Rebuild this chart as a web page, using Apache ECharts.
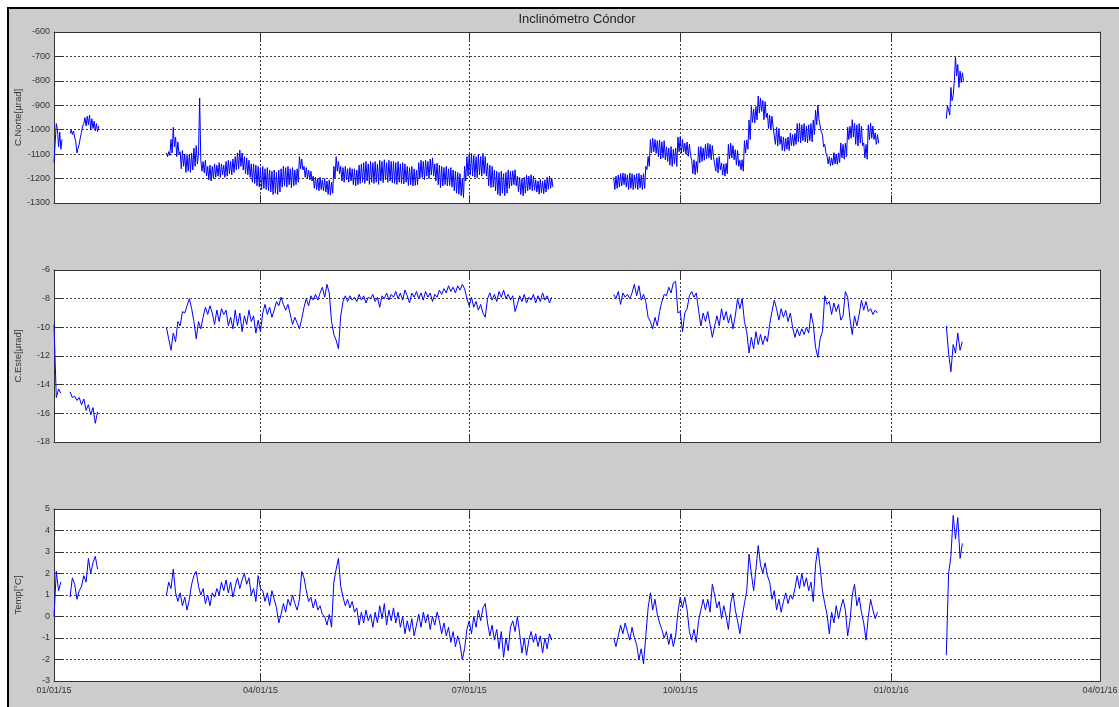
<!DOCTYPE html>
<html>
<head>
<meta charset="utf-8">
<title>Inclinómetro Cóndor</title>
<script src="https://cdn.jsdelivr.net/npm/echarts@6/dist/echarts.min.js"></script>
<style>
  html, body { margin: 0; padding: 0; background: #ffffff; overflow: hidden; width: 1119px; height: 707px; }
  .Fig_Back {
    position: absolute;
    left: 7px;
    top: 7px;
    width: 1130px;
    height: 710px;
    box-sizing: border-box;
    background-color: #cccccc;
    border-top: 2px solid #000000;
    border-left: 2px solid #000000;
  }
  #Condor_Chart {
    position: absolute;
    left: 0;
    top: 0;
    width: 1119px;
    height: 707px;
  }
</style>
</head>
<body>
<div class="Fig_Back"></div>
<div id="Condor_Chart"></div>
<script>
// first day of every stretch of records
const segStart = ["2015-01-01", "2015-01-08", "2015-02-19", "2015-09-02", "2016-01-25"];

// x axis ticks (quarters)
const tickDates = ["2015-01-01", "2015-04-01", "2015-07-01", "2015-10-01", "2016-01-01", "2016-04-01"];

// C.Norte [µrad], two readings per day (00h, 12h)
const norte1 = [-1135, -1055, -975, -1000, -1070, -1010, -1080, -1040];
const norte2 = [
  -1015, -1000, -1020, -1005, -1030, -1050, -1095, -1075, -1060, -1030, -1010, -985, -975,
  -950, -985, -945, -980, -940, -1000, -955, -995, -965, -1005, -975, -1008, -985
];
const norte3 = [
  -1095, -1110, -1090, -1105, -1040, -1095, -990, -1070, -1030, -1110,
  -1050, -1100, -1090, -1160, -1085, -1150, -1100, -1175, -1105, -1170,
  -1100, -1175, -1095, -1165, -1075, -1150, -1065, -1140, -1100, -870,
  -1125, -1170, -1130, -1177, -1125, -1190, -1150, -1205, -1145, -1210,
  -1150, -1200, -1140, -1195, -1145, -1190, -1135, -1195, -1140, -1185,
  -1145, -1195, -1130, -1190, -1125, -1180, -1130, -1185, -1120, -1175,
  -1110, -1165, -1095, -1160, -1083, -1150, -1095, -1165, -1110, -1180,
  -1115, -1185, -1125, -1195, -1140, -1215, -1140, -1220, -1145, -1230,
  -1150, -1235, -1155, -1245, -1150, -1240, -1160, -1245, -1155, -1250,
  -1165, -1255, -1170, -1265, -1165, -1260, -1175, -1265, -1165, -1255,
  -1160, -1235, -1150, -1230, -1155, -1235, -1150, -1225, -1160, -1237,
  -1155, -1230, -1165, -1225, -1160, -1215, -1110, -1160, -1120, -1165,
  -1150, -1195, -1155, -1200, -1165, -1205, -1170, -1210, -1190, -1240,
  -1195, -1245, -1200, -1250, -1195, -1245, -1205, -1250, -1200, -1255,
  -1210, -1265, -1205, -1268, -1215, -1260, -1150, -1200, -1110, -1170,
  -1130, -1180, -1150, -1210, -1155, -1215, -1150, -1205, -1160, -1215,
  -1155, -1210, -1160, -1225, -1160, -1230, -1165, -1225, -1145, -1220,
  -1140, -1215, -1135, -1220, -1130, -1210, -1140, -1224, -1130, -1215,
  -1135, -1220, -1130, -1215, -1140, -1224, -1125, -1210, -1130, -1217,
  -1123, -1205, -1135, -1215, -1125, -1210, -1130, -1217, -1130, -1220,
  -1135, -1224, -1130, -1215, -1140, -1220, -1135, -1222, -1140, -1215,
  -1150, -1228, -1155, -1225, -1150, -1230, -1160, -1228, -1165, -1225,
  -1135, -1200, -1125, -1195, -1130, -1204, -1125, -1190, -1130, -1200,
  -1120, -1185, -1115, -1190, -1140, -1210, -1137, -1225, -1145, -1237,
  -1150, -1230, -1155, -1225, -1150, -1230, -1160, -1228, -1155, -1235,
  -1165, -1250, -1170, -1260, -1175, -1264, -1180, -1270, -1200, -1278,
  -1150, -1210, -1110, -1190, -1100, -1185, -1097, -1190, -1105, -1195,
  -1110, -1197, -1100, -1185, -1110, -1190, -1097, -1180, -1110, -1190,
  -1137, -1230, -1145, -1237, -1150, -1235, -1165, -1250, -1170, -1265,
  -1175, -1271, -1170, -1260, -1180, -1270, -1175, -1260, -1165, -1240,
  -1170, -1230, -1168, -1225, -1164, -1230, -1190, -1255, -1195, -1265,
  -1200, -1271, -1195, -1260, -1185, -1250, -1190, -1245, -1184, -1250,
  -1190, -1248, -1205, -1255, -1210, -1264, -1204, -1258, -1210, -1262,
  -1205, -1255, -1195, -1244, -1190, -1240, -1200, -1235
];
const norte4 = [
  -1195, -1245, -1190, -1240, -1185, -1235, -1180, -1230, -1177, -1225,
  -1180, -1235, -1185, -1245, -1177, -1240, -1180, -1245, -1185, -1240,
  -1180, -1245, -1178, -1238, -1185, -1245, -1180, -1240, -1150, -1163,
  -1110, -1150, -1040, -1095, -1035, -1090, -1040, -1097, -1045, -1110,
  -1042, -1120, -1050, -1115, -1045, -1123, -1070, -1130, -1075, -1145,
  -1069, -1150, -1080, -1140, -1075, -1150, -1030, -1090, -1028, -1096,
  -1040, -1090, -1055, -1100, -1050, -1109, -1060, -1105, -1125, -1180,
  -1123, -1184, -1130, -1175, -1070, -1136, -1069, -1130, -1075, -1125,
  -1060, -1120, -1055, -1115, -1060, -1123, -1065, -1110, -1109, -1170,
  -1115, -1177, -1110, -1165, -1136, -1185, -1140, -1190, -1138, -1180,
  -1060, -1120, -1055, -1115, -1065, -1123, -1082, -1145, -1085, -1150,
  -1125, -1165, -1123, -1170, -1045, -1096, -1042, -1080, -960, -1040,
  -905, -970, -915, -973, -905, -960, -862, -932, -870, -925,
  -880, -959, -885, -950, -932, -995, -940, -1000, -945, -990,
  -986, -1060, -990, -1067, -995, -1060, -1027, -1085, -1030, -1088,
  -1035, -1080, -1030, -1085, -1013, -1065, -1020, -1067, -1015, -1060,
  -975, -1050, -973, -1054, -980, -1045, -975, -1050, -985, -1054,
  -980, -1045, -975, -1050, -960, -1020, -920, -980, -899, -960,
  -959, -1010, -1020, -1070, -1060, -1094, -1108, -1140, -1110, -1148,
  -1115, -1145, -1094, -1140, -1100, -1142, -1095, -1135, -1054, -1115,
  -1060, -1121, -1055, -1110, -990, -1040, -986, -1035, -959, -1030,
  -973, -1060, -980, -1067, -975, -1055, -985, -1065, -1054, -1115,
  -1060, -1121, -980, -1040, -973, -1035, -985, -1040, -1013, -1060,
  -1020, -1055
];
const norte5 = [-955, -900, -894, -940, -827, -881, -860, -800, -700, -780, -733, -827, -760, -807, -767, -800];

// C.Este [µrad], one reading per day
const este1 = [-9.8, -14.9, -14.3, -14.6];
const este2 = [-14.5, -14.9, -14.8, -15.1, -14.9, -15.4, -15.0, -15.8, -15.4, -16.1, -15.6, -16.7, -15.9];
const este3 = [
  -10.0, -10.8, -11.6, -10.4, -11.0, -9.6, -9.9, -8.9, -9.0, -8.5,
  -8.0, -8.7, -9.6, -10.8, -9.6, -10.1, -9.3, -8.6, -9.1, -8.5,
  -9.0, -9.8, -8.8, -9.6, -8.7, -9.1, -8.8, -9.9, -9.3, -10.1,
  -8.8, -9.9, -9.0, -10.3, -9.2, -9.8, -8.8, -9.6, -9.2, -10.4,
  -9.5, -10.3, -9.0, -8.4, -9.1, -8.6, -9.3, -8.8, -8.2, -8.5,
  -7.9, -8.4, -8.8, -8.4, -9.1, -9.8, -9.3, -9.7, -10.1, -9.4,
  -8.6, -8.0, -8.5, -7.8, -8.1, -7.7, -8.1, -7.6, -7.2, -7.9,
  -7.0, -7.6, -9.6, -10.5, -10.9, -11.5, -9.2, -8.2, -7.8, -8.2,
  -7.8, -8.1, -7.9, -8.2, -7.7, -8.1, -7.8, -8.3, -7.9, -8.0,
  -7.7, -8.2, -7.9, -8.6, -7.8, -8.0, -7.6, -8.1, -7.7, -7.9,
  -7.5, -8.0, -7.6, -8.1, -7.4, -7.8, -8.3, -7.6, -7.9, -7.5,
  -8.0, -7.6, -8.1, -7.5, -7.9, -7.6, -8.2, -7.7, -7.9, -7.4,
  -7.7, -7.3, -7.6, -7.1, -7.5, -7.2, -7.6, -7.1, -7.4, -7.0,
  -7.3, -8.0, -8.5, -7.9, -8.6, -8.2, -8.8, -8.4, -9.0, -9.3,
  -8.0, -7.6, -8.1, -7.7, -8.2, -7.5, -7.9, -7.4, -8.0, -7.7,
  -8.1, -7.8, -8.9, -8.4, -7.8, -8.2, -7.7, -8.3, -7.9, -8.1,
  -7.7, -8.3, -7.8, -8.2, -7.6, -8.1, -7.8, -8.3, -7.9
];
const este4 = [
  -7.7, -8.0, -7.5, -8.4, -7.6, -7.9, -7.7, -8.0, -7.6, -7.0,
  -7.8, -7.1, -8.1, -7.7, -8.2, -9.3, -9.6, -10.1, -9.3, -9.9,
  -8.9, -8.2, -7.7, -7.8, -7.2, -7.6, -6.9, -6.8, -9.0, -8.9,
  -10.3, -9.0, -8.7, -7.8, -7.5, -7.9, -7.6, -8.8, -9.9, -9.0,
  -9.6, -8.9, -9.8, -10.7, -9.9, -9.2, -9.9, -8.7, -9.5, -8.9,
  -9.7, -9.1, -10.1, -9.2, -8.0, -8.7, -8.0, -9.6, -10.3, -11.8,
  -10.7, -11.5, -10.3, -11.2, -10.5, -11.2, -10.6, -11.0, -9.8, -8.9,
  -8.1, -8.7, -9.5, -8.7, -9.3, -8.8, -9.6, -9.0, -10.0, -10.7,
  -10.1, -10.6, -10.1, -10.5, -10.0, -10.4, -9.0, -9.8, -11.4, -12.1,
  -10.8, -10.3, -7.8, -8.4, -8.2, -9.1, -8.3, -8.9, -8.4, -9.5,
  -9.2, -7.5, -7.9, -9.4, -10.5, -9.2, -9.9, -9.1, -8.1, -8.8,
  -8.2, -8.9, -8.7, -9.1, -8.8, -9.0
];
const este5 = [-9.9, -11.8, -13.1, -11.2, -11.8, -10.4, -11.6, -11.0];

// Temp [°C], one reading per day
const temp1 = [0.0, 2.1, 1.2, 1.6];
const temp2 = [0.9, 1.8, 1.5, 0.8, 1.2, 1.4, 1.9, 1.6, 2.7, 2.0, 2.5, 2.8, 2.2];
const temp3 = [
  1.0, 1.6, 1.3, 2.2, 1.1, 0.7, 1.1, 0.5, 0.9, 0.3,
  0.8, 1.5, 1.9, 2.1, 1.4, 1.0, 1.3, 0.6, 1.0, 0.5,
  1.1, 0.9, 1.3, 1.0, 1.6, 1.2, 1.7, 1.1, 1.6, 0.9,
  1.4, 1.8, 1.3, 1.7, 2.0, 1.5, 1.8, 1.0, 1.3, 0.7,
  1.9, 1.3, 1.2, 0.7, 1.1, 0.5, 1.2, 0.8, 0.4, -0.3,
  0.1, 0.6, 0.2, 0.8, 0.5, 1.0, 0.6, 0.3, 0.8, 2.1,
  1.8, 1.2, 0.7, 0.9, 0.4, 0.8, 0.3, 0.5, 0.1, 0.0,
  -0.4, 0.1, -0.5, 1.6, 2.2, 2.7, 1.4, 0.9, 0.5, 0.8,
  0.4, 0.7, 0.2, 0.4, -0.4, 0.2, -0.3, 0.3, -0.2, 0.1,
  -0.5, 0.2, -0.3, 0.5, -0.1, 0.6, -0.4, 0.3, -0.2, 0.4,
  -0.3, 0.2, -0.5, 0.0, -0.8, -0.2, -0.7, -0.1, -0.9, -0.4,
  0.1, -0.5, 0.2, -0.3, 0.1, -0.6, 0.0, -0.4, 0.2, -0.2,
  -0.8, -0.3, -0.9, -0.5, -1.2, -0.7, -1.4, -0.9, -1.3, -2.0,
  -1.5, -0.6, -0.2, -0.8, 0.0, -0.5, 0.3, -0.2, 0.4, 0.6,
  -0.3, -0.9, -0.4, -1.1, -0.6, -1.5, -0.7, -1.9, -1.0, -1.6,
  -0.5, -0.2, -0.7, 0.0, -0.8, -1.7, -1.0, -1.8, -1.1, -0.7,
  -1.2, -0.8, -1.4, -0.9, -1.7, -1.0, -1.5, -0.8, -1.1
];
const temp4 = [
  -1.0, -1.4, -0.9, -0.4, -0.8, -0.3, -0.7, -1.1, -0.5, -1.0,
  -1.3, -2.0, -1.5, -2.2, -0.9, 0.4, 1.1, 0.3, 0.8, 0.1,
  -0.3, -0.6, -1.0, -0.7, -1.3, -0.8, -1.4, -0.9, 0.2, 0.9,
  0.4, 0.9, 0.3, -0.7, -1.1, -0.6, -1.2, -0.2, 0.3, 0.8,
  0.3, 0.8, 0.2, 1.5, 1.0, 0.4, 0.7, -0.1, 0.5, 0.0,
  -0.6, 0.6, 1.1, 0.3, -0.2, -0.8, 0.0, 0.6, 1.2, 2.9,
  2.0, 1.2, 2.2, 3.3, 2.4, 2.0, 2.5, 1.9, 1.6, 0.8,
  1.2, 0.3, 0.8, 0.2, 0.7, 1.1, 0.6, 1.0, 0.8, 1.3,
  1.9, 1.3, 2.0, 1.4, 1.8, 1.2, 1.6, 0.7, 2.4, 3.2,
  2.3, 1.2, 0.6, 0.1, -0.8, 0.2, -0.3, 0.5, -0.1, 0.4,
  0.8, 0.3, -0.9, -0.2, 1.0, 1.5, 0.5, 0.9, 0.2, -0.3,
  -1.1, 0.0, 0.8, 0.3, -0.1, 0.2
];
const temp5 = [-1.8, 2.0, 2.8, 4.7, 3.6, 4.6, 2.7, 3.4];

const DAY = 86400000;

// join the stretches, with a break between them
function buildSeries(segs, stepDays) {
  const out = [];
  const step = stepDays * DAY;
  segs.forEach((vals, k) => {
    const t0 = Date.parse(segStart[k] + "T00:00:00Z");
    vals.forEach((v, i) => out.push([t0 + i * step, v]));
    if (k < segs.length - 1) out.push([t0 + vals.length * step, "-"]);
  });
  return out;
}

function fmtDate(v) {
  const d = new Date(v);
  const p = (n) => String(n).padStart(2, "0");
  return p(d.getUTCMonth() + 1) + "/" + p(d.getUTCDate()) + "/" + String(d.getUTCFullYear()).slice(2);
}

const ticks = tickDates.map((s) => Date.parse(s + "T00:00:00Z"));
const xMin = ticks[0];
const xMax = ticks[ticks.length - 1];

const panels = [
  { name: "C.Norte[µrad]", min: -1300, max: -600, step: 100, top: 32, height: 171, day: 0.5, segs: [norte1, norte2, norte3, norte4, norte5] },
  { name: "C.Este[µrad]", min: -18, max: -6, step: 2, top: 270, height: 172, day: 1, segs: [este1, este2, este3, este4, este5] },
  { name: "Temp[°C]", min: -3, max: 5, step: 1, top: 509, height: 172, day: 1, segs: [temp1, temp2, temp3, temp4, temp5] },
];

const axisColor = "#333333";
const gridLine = { color: "#3c3c3c", width: 1, type: [2, 2] };
const labelFont = { fontFamily: "Liberation Sans, Arial, sans-serif", fontSize: 9, color: "#333333" };

const grids = [], xAxes = [], yAxes = [], series = [];

panels.forEach((p, i) => {
  grids.push({
    left: 54, right: 19, top: p.top, height: p.height,
    containLabel: false, outerBoundsMode: "none",
    show: true, backgroundColor: "#ffffff", borderWidth: 0,
  });
  // bottom axis (values are ms timestamps)
  xAxes[i] = {
    type: "value", gridIndex: i, min: xMin, max: xMax, position: "bottom",
    axisLine: { show: true, onZero: false, lineStyle: { color: axisColor, width: 1 } },
    axisTick: { show: true, inside: true, length: 8, customValues: ticks, lineStyle: { color: axisColor } },
    axisLabel: Object.assign({ show: i === 2, customValues: ticks, formatter: fmtDate, margin: 5, hideOverlap: false }, labelFont),
    splitLine: { show: true, lineStyle: gridLine },
  };
  // top border
  xAxes[i + 3] = {
    type: "value", gridIndex: i, min: xMin, max: xMax, position: "top",
    axisLine: { show: true, onZero: false, lineStyle: { color: axisColor, width: 1 } },
    axisTick: { show: true, inside: true, length: 8, customValues: ticks, lineStyle: { color: axisColor } },
    axisLabel: { show: false },
    splitLine: { show: false },
  };
  yAxes[i] = {
    type: "value", gridIndex: i, min: p.min, max: p.max, interval: p.step, position: "left",
    name: p.name, nameLocation: "middle", nameGap: 31, nameRotate: 90, nameMoveOverlap: false,
    nameTextStyle: { fontFamily: "Liberation Sans, Arial, sans-serif", fontSize: 9.5, color: "#333333" },
    axisLine: { show: true, onZero: false, lineStyle: { color: axisColor, width: 1 } },
    axisTick: { show: true, inside: true, length: 8, lineStyle: { color: axisColor } },
    axisLabel: Object.assign({ margin: 4, formatter: (v) => String(v) }, labelFont),
    splitLine: { show: true, lineStyle: gridLine },
  };
  yAxes[i + 3] = {
    type: "value", gridIndex: i, min: p.min, max: p.max, interval: p.step, position: "right",
    axisLine: { show: true, onZero: false, lineStyle: { color: axisColor, width: 1 } },
    axisTick: { show: true, inside: true, length: 10, lineStyle: { color: axisColor } },
    axisLabel: { show: false },
    splitLine: { show: false },
  };
  series.push({
    type: "line", xAxisIndex: i, yAxisIndex: i,
    data: buildSeries(p.segs, p.day),
    showSymbol: false, symbol: "none", connectNulls: false,
    lineStyle: { color: "#0000ff", width: 1 },
    itemStyle: { color: "#0000ff" },
  });
});

const myChart = echarts.init(document.getElementById("Condor_Chart"), null, { renderer: "canvas" });
myChart.setOption({
  backgroundColor: "transparent",
  animation: false,
  graphic: [{
    type: "text", x: 577, y: 19,
    style: { text: "Inclinómetro Cóndor", align: "center", verticalAlign: "middle",
             font: "13px 'Liberation Sans', Arial, sans-serif", fill: "#222222" },
  }],
  grid: grids,
  xAxis: xAxes,
  yAxis: yAxes,
  series: series,
});
</script>
</body>
</html>
